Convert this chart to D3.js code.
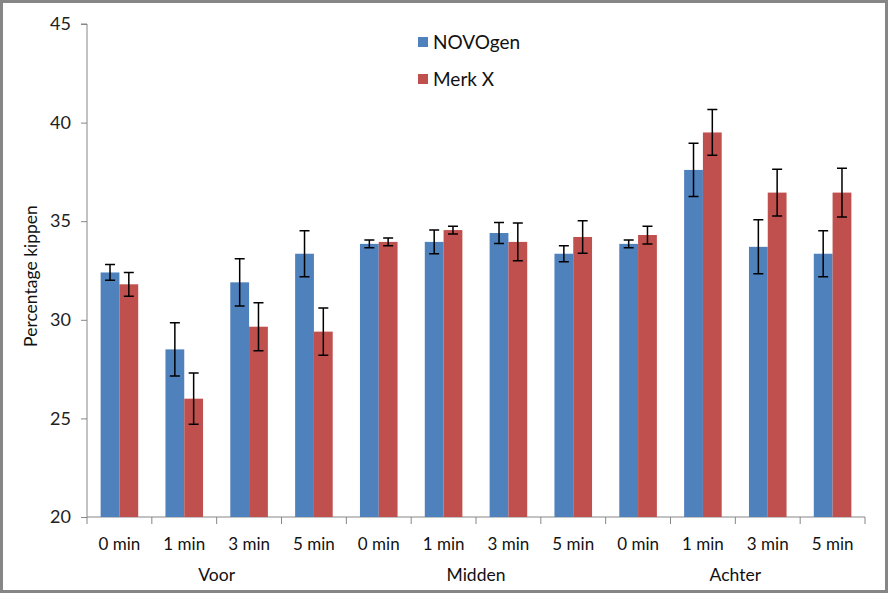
<!DOCTYPE html>
<html><head><meta charset="utf-8">
<script src="https://cdn.jsdelivr.net/npm/d3@7/dist/d3.min.js"></script>
<style>
html,body{margin:0;padding:0;background:#fff;}
svg{display:block;font-family:"Lato","Open Sans",sans-serif;}
</style></head>
<body>
<script>
const groups = ["Voor","Midden","Achter"];
const times = ["0 min","1 min","3 min","5 min"];
const seriesNames = ["NOVOgen","Merk X"];
const novogen = [32.4,28.5,31.9,33.35, 33.85,33.95,34.4,33.35, 33.85,37.6,33.7,33.35];
const novogenErr = [0.4,1.35,1.2,1.17, 0.2,0.6,0.53,0.4, 0.2,1.35,1.37,1.17];
const merkX = [31.8,26.0,29.65,29.4, 33.95,34.55,33.95,34.2, 34.3,39.5,36.45,36.45];
const merkXErr = [0.6,1.3,1.22,1.2, 0.2,0.2,0.96,0.82, 0.45,1.16,1.19,1.24];
const yTicks = [20,25,30,35,40,45];
const colors = ["#4F81BD","#C0504D"];

(function(){
const W=888,H=593;
const svg=d3.select("body").append("svg").attr("width",W).attr("height",H);
svg.append("rect").attr("x",1.5).attr("y",1.5).attr("width",W-3).attr("height",H-3)
  .attr("fill","#fff").attr("stroke","#868686").attr("stroke-width",3);

const pL=87,pR=865,pT=24,pB=517;
const y=d3.scaleLinear().domain([20,45]).range([pB,pT]);
const cats=[];
groups.forEach(g=>times.forEach(t=>cats.push(g+"|"+t)));
const x=d3.scaleBand().domain(cats).range([pL,pR]).paddingInner(0).paddingOuter(0);
const bw=x.bandwidth()/3.45;
function bx(i,s){return x(cats[i])+x.bandwidth()/2+(s===0?-bw:0);}

// y axis
const yAxis=d3.axisLeft(y).tickValues(yTicks).tickSize(6).tickPadding(6);
const ya=svg.append("g").attr("transform",`translate(${pL},0)`).call(yAxis);
ya.select(".domain").attr("stroke","#868686").attr("d",`M-6,${pT}H0V${pB}`);
ya.selectAll(".tick line").attr("stroke","#868686");
ya.selectAll(".tick text").attr("font-size",18).attr("fill","#222").attr("font-family","Lato, sans-serif").attr("dx",-4);

// x axis
const xa=svg.append("g").attr("transform",`translate(0,${pB})`);
xa.append("line").attr("x1",pL).attr("x2",pR).attr("stroke","#868686");
const edges=cats.map(c=>x(c)).concat([pR]);
xa.selectAll("line.tk").data(edges).enter().append("line").attr("class","tk")
  .attr("x1",d=>d).attr("x2",d=>d).attr("y1",0).attr("y2",7).attr("stroke","#868686");
xa.selectAll("text.cat").data(cats).enter().append("text").attr("class","cat")
  .attr("x",d=>x(d)+x.bandwidth()/2).attr("y",33).attr("text-anchor","middle")
  .attr("font-size",17).attr("fill","#111").text(d=>d.split("|")[1]);
xa.selectAll("text.grp").data(groups).enter().append("text").attr("class","grp")
  .attr("x",g=>(x(g+"|"+times[0])+x(g+"|"+times[3])+x.bandwidth())/2).attr("y",64)
  .attr("text-anchor","middle").attr("font-size",17.5).attr("fill","#111").text(g=>g);

// y label
svg.append("text").attr("transform",`translate(37,276) rotate(-90)`).attr("text-anchor","middle")
  .attr("font-size",17.5).attr("fill","#111").text("Percentage kippen");

// bars
const data=[];
cats.forEach((c,i)=>{
  data.push({i,s:0,v:novogen[i],e:novogenErr[i]});
  data.push({i,s:1,v:merkX[i],e:merkXErr[i]});
});
svg.append("g").selectAll("rect").data(data).enter().append("rect")
  .attr("x",d=>bx(d.i,d.s)).attr("width",bw).attr("y",d=>y(d.v)).attr("height",d=>pB-y(d.v))
  .attr("fill",d=>colors[d.s]);
// error bars
const eg=svg.append("g").attr("stroke","#000").attr("stroke-width",1.5).attr("fill","none");
data.forEach(d=>{
  const cx=bx(d.i,d.s)+bw/2;
  const y1=y(d.v+d.e),y2=y(d.v-d.e);
  eg.append("path").attr("d",`M${cx},${y1}V${y2}M${cx-5},${y1}H${cx+5}M${cx-5},${y2}H${cx+5}`);
});

// legend
const lg=svg.append("g");
seriesNames.forEach((n,k)=>{
  const yy=42+k*37;
  lg.append("rect").attr("x",418).attr("y",yy-5).attr("width",10).attr("height",10).attr("fill",colors[k]);
  lg.append("text").attr("x",433).attr("y",yy+6.5).attr("font-size",19).attr("fill","#111").text(n);
});
})();
</script>
</body></html>
